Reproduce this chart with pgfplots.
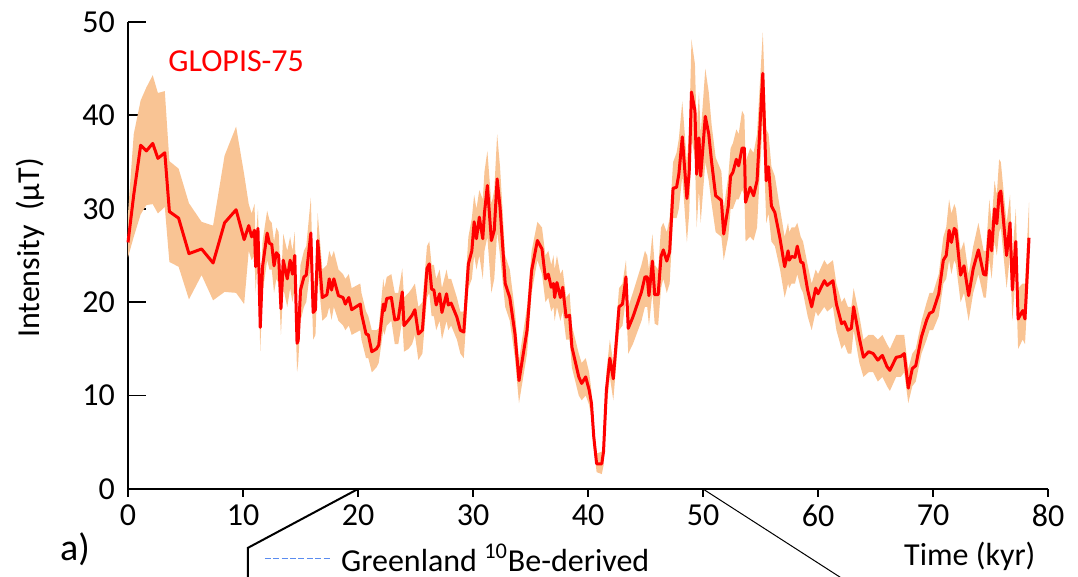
\documentclass[border=0pt]{standalone}
\usepackage{fontspec}
\setmainfont{Carlito}
\usepackage{pgfplots}
\pgfplotsset{compat=1.18}
\usepgfplotslibrary{fillbetween}
\usepackage{pgfplotstable}
\definecolor{band}{RGB}{249,196,148}
\definecolor{glblue}{RGB}{90,140,240}

\pgfplotstableread{
x y lo hi
0.0 26.4 24.8 29.5
0.5 31.5 27.0 38.0
1.1 36.8 29.4 41.6
1.6 36.2 30.4 43.0
2.15 37.0 30.5 44.3
2.6 35.4 29.5 42.4
3.2 36.0 30.2 42.6
3.6 29.7 24.3 35.1
4.4 29.0 23.8 34.3
5.3 25.2 20.3 30.6
6.4 25.7 22.9 28.6
7.4 24.2 20.2 28.2
8.4 28.5 21.1 35.7
9.4 29.9 21.0 38.8
10.1 26.7 19.8 33.7
10.5 28.2 25.5 30.5
10.75 27.0 24.5 29.5
11.0 27.7 25.0 30.5
11.1 23.8 21.0 26.5
11.3 27.9 25.0 30.0
11.5 17.3 14.8 20.5
11.7 23.8 21.0 26.5
12.1 27.4 24.5 29.8
12.3 26.3 23.5 28.8
12.5 26.2 23.5 28.5
12.7 23.9 21.0 26.5
12.9 25.3 22.5 28.0
13.1 25.0 22.0 27.5
13.3 19.3 16.5 22.0
13.5 24.5 21.5 27.3
13.85 22.5 19.5 25.5
14.1 24.5 21.5 27.0
14.3 23.0 20.0 25.5
14.5 25.0 21.5 27.5
14.7 15.6 12.5 18.5
14.8 15.9 13.5 19.0
15.0 21.3 18.0 24.0
15.3 22.7 19.5 25.5
15.5 22.9 20.0 26.0
15.9 27.4 24.0 31.2
16.1 18.9 16.0 22.0
16.3 19.2 16.5 22.5
16.5 26.6 23.0 29.5
16.9 20.5 18.0 23.5
17.3 20.8 18.5 24.0
17.5 22.5 19.5 25.5
17.7 21.3 18.1 24.8
17.9 22.5 19.5 25.5
18.3 20.7 18.0 23.5
18.7 20.5 17.5 23.0
18.9 19.8 17.0 22.5
19.2 20.5 17.5 23.0
19.45 19.2 16.5 21.5
20.2 19.8 17.0 22.0
20.3 18.8 16.0 21.0
20.7 16.6 14.0 19.0
20.9 16.5 14.0 18.5
21.2 14.7 12.5 17.0
21.6 15.0 13.0 17.0
21.8 15.4 13.5 17.2
22.2 19.8 17.0 22.5
22.3 19.1 16.5 21.5
22.5 20.4 17.5 22.7
22.9 20.5 18.0 23.0
23.2 18.1 15.5 21.0
23.5 18.2 15.5 21.0
23.85 21.1 18.0 23.6
24.0 17.5 14.7 20.5
24.4 18.1 15.0 21.0
24.7 18.6 15.5 21.5
24.95 19.2 16.5 22.0
25.25 16.6 13.8 19.5
25.6 17.0 14.5 20.0
26.0 23.6 20.5 26.0
26.2 24.1 21.0 26.5
26.4 21.4 18.5 24.0
26.6 21.3 18.5 24.0
26.8 19.7 17.0 22.5
27.1 20.9 18.0 23.5
27.3 18.9 16.0 21.5
27.7 20.9 18.0 23.5
27.85 19.7 17.0 22.5
28.1 19.9 17.5 22.5
28.6 18.4 16.0 20.5
28.9 17.0 14.5 19.0
29.2 16.8 14.0 19.0
29.6 24.1 21.5 27.0
29.9 25.5 22.5 29.0
30.1 28.6 25.0 31.5
30.3 26.8 23.5 30.0
30.55 29.1 25.0 32.0
30.85 26.8 22.5 31.0
31.0 29.6 25.5 34.0
31.25 32.5 27.0 36.2
31.6 26.6 21.0 30.5
31.85 27.7 22.5 32.0
32.1 33.2 27.5 38.0
32.35 30.2 25.0 34.5
32.8 22.0 19.5 25.0
33.2 20.5 18.0 23.5
33.65 16.6 14.0 19.0
34.0 11.6 9.2 13.8
34.7 17.0 14.5 19.5
35.1 23.4 21.0 25.5
35.6 26.6 24.5 28.6
36.0 25.7 23.0 28.0
36.3 22.5 20.0 25.0
36.55 23.0 20.5 25.5
36.8 21.6 19.0 24.0
37.0 22.0 19.5 25.0
37.1 20.5 18.0 23.5
37.3 22.1 19.5 25.0
37.6 20.5 18.0 23.0
37.8 21.6 19.0 23.5
38.1 18.4 16.0 20.5
38.4 18.6 16.0 21.0
38.6 15.2 13.0 17.5
39.2 12.0 10.0 14.5
39.45 11.3 9.5 13.5
39.8 12.0 10.0 14.0
40.1 10.6 9.0 12.5
40.3 9.2 7.5 10.5
40.5 5.6 4.5 7.0
40.75 2.7 1.8 3.8
41.2 2.7 1.6 4.0
41.35 4.0 2.5 5.5
41.6 10.6 8.5 12.5
41.9 14.0 12.0 16.0
42.2 11.8 9.5 13.5
42.7 19.5 17.0 21.5
43.0 19.8 17.5 22.0
43.3 22.7 20.5 24.5
43.5 17.2 14.5 19.5
43.9 18.4 15.5 21.0
44.65 21.1 18.0 24.0
44.95 22.7 19.5 25.5
45.15 22.7 19.5 25.0
45.3 20.7 17.5 23.5
45.6 24.4 21.0 27.3
45.8 20.8 17.7 24.0
46.1 20.8 17.5 23.5
46.35 24.9 21.5 28.0
46.55 25.6 22.5 28.5
46.85 24.4 21.0 27.5
47.1 25.4 22.0 29.0
47.4 32.2 29.0 35.0
47.7 32.3 29.0 36.0
47.9 33.7 30.0 37.5
48.2 37.7 33.5 41.5
48.6 31.1 26.4 35.0
48.8 33.9 29.5 38.5
49.0 42.5 37.5 48.1
49.3 40.5 35.5 45.5
49.45 33.7 28.0 38.5
49.65 37.6 32.0 42.5
49.8 33.5 28.5 38.0
50.2 39.9 35.0 45.0
50.5 38.0 33.0 42.5
50.75 35.0 30.5 39.0
51.1 31.4 27.5 35.5
51.6 30.9 27.0 34.0
51.8 27.3 24.5 30.0
52.2 30.3 27.0 33.5
52.4 33.5 30.0 36.5
52.6 33.9 30.0 37.0
52.9 35.3 31.0 38.5
53.1 34.6 31.0 38.0
53.4 36.5 32.0 40.5
53.6 36.5 31.5 40.0
53.7 30.7 26.5 35.0
54.1 32.3 27.0 36.5
54.4 31.4 26.6 36.0
54.7 33.0 28.0 38.0
54.95 38.7 34.0 43.5
55.2 44.5 39.5 48.9
55.5 33.0 28.5 38.5
55.7 34.5 29.5 38.0
55.95 30.3 26.5 34.5
56.25 29.6 26.0 33.5
56.7 26.8 23.5 30.0
57.1 23.8 20.5 27.0
57.4 25.5 22.0 28.5
57.5 24.5 21.5 27.5
57.7 24.9 22.0 28.0
58.0 24.8 22.0 28.0
58.2 26.0 23.0 28.5
58.5 24.3 21.5 27.0
58.7 24.2 21.0 26.5
59.1 21.3 18.5 24.0
59.45 19.5 17.0 22.0
59.8 21.5 19.0 23.5
60.0 20.9 18.5 23.0
60.55 22.3 19.5 24.5
60.8 21.8 19.0 24.0
61.3 22.3 19.5 24.5
61.6 19.8 17.0 22.0
62.05 17.7 15.0 20.0
62.3 17.9 15.5 20.5
62.6 17.0 14.5 19.5
62.9 17.2 14.5 19.5
63.1 19.5 17.0 21.5
63.6 16.1 13.5 18.5
63.95 14.1 12.0 16.0
64.4 14.7 12.5 16.5
64.8 14.5 12.5 16.5
65.2 13.8 11.5 16.0
65.6 14.3 12.0 16.5
66.0 13.1 11.0 15.5
66.25 12.7 10.5 15.0
66.8 14.1 12.0 16.5
67.2 14.2 12.0 16.5
67.5 14.5 12.5 16.5
67.85 10.8 9.2 12.8
68.2 12.9 11.0 14.5
68.5 13.2 11.5 15.0
69.0 16.3 14.5 18.0
69.45 18.1 16.0 20.0
69.7 18.8 17.0 21.0
70.0 19.0 17.0 21.0
70.5 20.9 18.5 23.0
70.9 24.5 22.0 27.0
71.15 25.0 22.5 28.0
71.4 27.7 24.5 31.0
71.6 26.4 23.0 29.5
71.85 27.9 24.5 30.5
72.0 27.7 24.0 30.0
72.4 22.9 20.0 25.5
72.7 23.9 21.0 26.5
73.1 20.7 18.0 23.0
73.5 23.6 21.0 26.0
73.95 25.6 23.0 28.5
74.4 23.0 20.5 25.5
74.6 22.9 20.5 25.5
74.9 27.7 24.5 31.0
75.1 25.5 22.5 28.5
75.35 30.0 26.5 33.0
75.55 28.4 25.0 31.5
75.75 31.6 27.5 35.3
75.9 31.9 28.0 35.0
76.4 25.0 21.5 28.5
76.7 28.5 25.0 31.5
76.9 21.3 18.0 25.0
77.2 26.5 23.0 30.0
77.4 18.2 15.0 21.5
77.8 19.1 16.0 22.0
78.0 18.2 15.5 22.0
78.35 26.9 23.5 30.7
}\data

\begin{document}
\begin{tikzpicture}
\begin{axis}[
  name=ax, at={(0pt,0pt)}, anchor=south west,
  scale only axis, width=460pt, height=233.5pt,
  xmin=0, xmax=80, ymin=0, ymax=50,
  axis lines*=left,
  axis line style={black, line width=0.9pt},
  xtick={0,10,...,80}, ytick={0,10,...,50},
  xtick align=outside, ytick align=inside,
  major tick length=4pt,
  tick style={black, line width=0.9pt},
  ytick style={/pgfplots/major tick length=9pt},
  /pgf/number format/assume math mode=true,
  tick label style={font=\fontsize{16}{19}\selectfont},
  yticklabel style={xshift=-3pt},
  xticklabel style={yshift=-0.5pt},
  clip=false,
]
\addplot[name path=hi, draw=none, forget plot] table[x=x, y=hi]{\data};
\addplot[name path=lo, draw=none, forget plot] table[x=x, y=lo]{\data};
\addplot[fill=band, draw=none, forget plot] fill between[of=hi and lo];
\addplot[red, line width=1.5pt, line join=round] table[x=x, y=y]{\data};

\node[red, font=\fontsize{16}{19}\selectfont] at (axis cs:9.4,45.8) {GLOPIS-75};
\node[rotate=90, font=\fontsize{16}{19}\selectfont] at (axis cs:-8.52,25.8) {Intensity\ \ (µT)};
\node[font=\fontsize{16}{19}\selectfont] at (axis cs:73.2,-7.2) {Time (kyr)};
\node[font=\fontsize{19}{22}\selectfont] at (axis cs:-4.6,-6.4) {a)};
\draw[black, line width=1pt] (axis cs:20,0) -- (axis cs:10.43,-6.3) -- (axis cs:10.43,-10);
\draw[black, line width=0.5pt] (axis cs:50,0) -- (axis cs:62.5,-9.9);
\draw[glblue, line width=0.8pt, dash pattern=on 3pt off 1.2pt] (axis cs:11.9,-7.45) -- (axis cs:17.6,-7.45);
\node[anchor=west, font=\fontsize{16}{19}\selectfont, inner sep=0pt] at (axis cs:18.5,-7.35) {Greenland \textsuperscript{10}Be-derived};
\end{axis}
\pgfresetboundingbox
\path[use as bounding box] (-64pt,-44pt) rectangle (475pt,244.5pt);
\end{tikzpicture}
\end{document}
